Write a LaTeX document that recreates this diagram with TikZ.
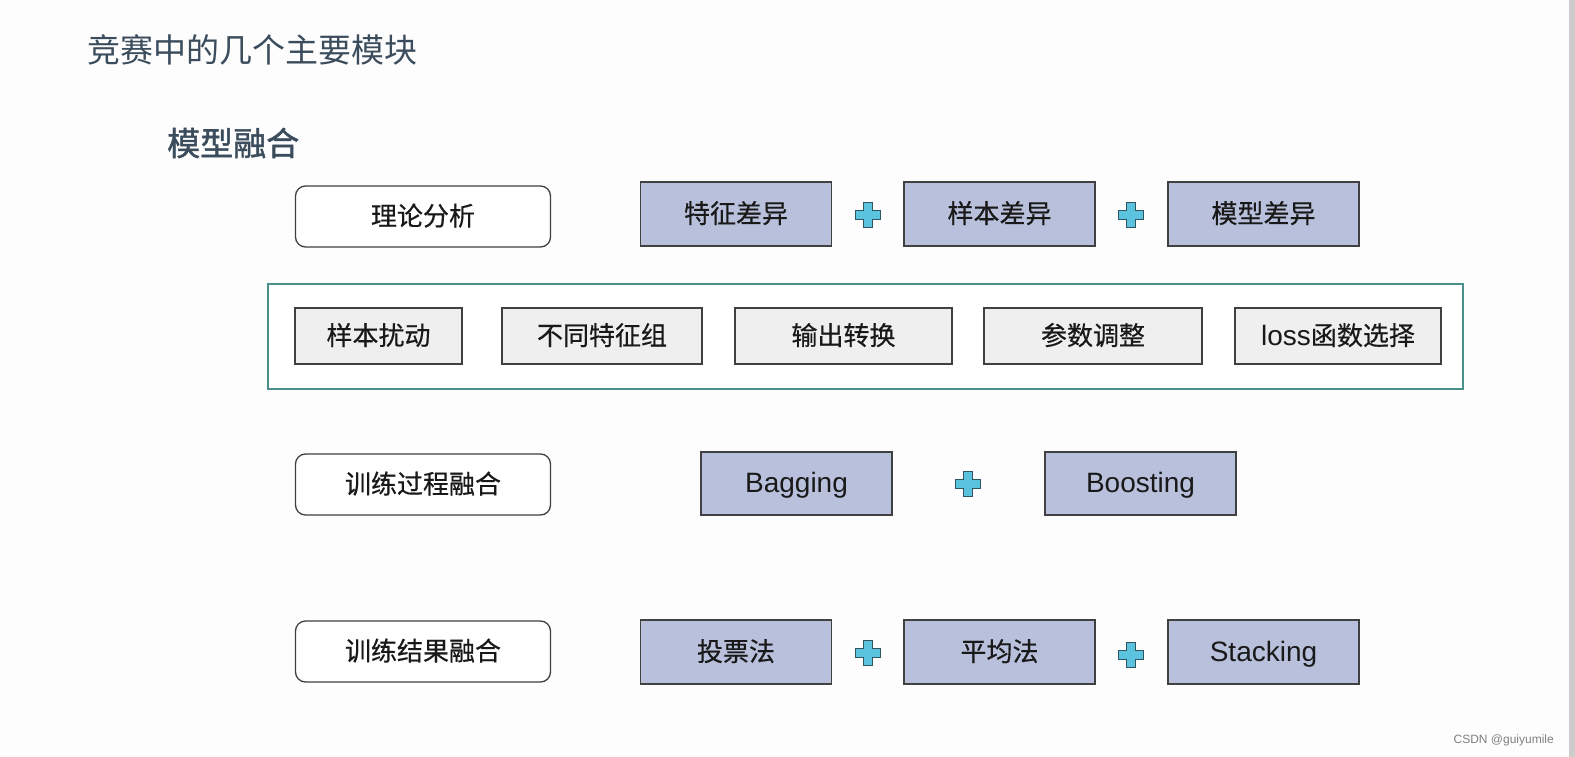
\documentclass[tikz,border=0pt]{standalone}
\usepackage{fontspec}
\setmainfont{Noto Sans CJK SC}
\newfontfamily\cjkb[FakeBold=1.2]{Noto Sans CJK SC}
\newfontfamily\cjkm[FakeBold=0.5]{Noto Sans CJK SC}
\newfontfamily\latn{Liberation Sans}
\newfontfamily\wmfont{Liberation Sans}
\definecolor{titlec}{HTML}{3B4C5C}
\definecolor{bluef}{HTML}{B8C0DB}
\definecolor{edgec}{HTML}{404040}
\definecolor{tealc}{HTML}{4A8F88}
\definecolor{grayf}{HTML}{EFEFEF}
\definecolor{plusf}{HTML}{5CC3DF}
\definecolor{plusd}{HTML}{2E5560}
\definecolor{bgc}{HTML}{FDFDFD}
\newcommand{\lt}[1]{{\latn\fontsize{28}{32}\selectfont #1}}
\tikzset{
  x=1pt,y=-1pt,
  boxtext/.style={font=\cjkm\fontsize{26}{30}\selectfont, text=black!90, inner sep=0pt, text height=22pt, text depth=4pt},
  roundbox/.style={boxtext, draw=edgec, line width=1.3pt, fill=white, rounded corners=10pt, minimum width=255pt, minimum height=61pt},
  bluebox/.style={boxtext, draw=edgec, line width=1.3pt, fill=bluef, minimum width=191pt, minimum height=64pt},
  graybox/.style={boxtext, draw=edgec, line width=1.3pt, fill=grayf, minimum height=56pt},
  pics/plus/.style={code={
    \draw[fill=plusf, draw=plusd, line width=1.2pt]
      (-4.8,-12.5) -- (4.8,-12.5) -- (4.8,-4.8) -- (12.5,-4.8) -- (12.5,4.8) -- (4.8,4.8)
      -- (4.8,12.5) -- (-4.8,12.5) -- (-4.8,4.8) -- (-12.5,4.8) -- (-12.5,-4.8) -- (-4.8,-4.8) -- cycle;
  }}
}
\begin{document}
\begin{tikzpicture}
\fill[bgc] (0,0) rectangle (1575,757);
\useasboundingbox (0,0) rectangle (1575,757);
\fill[gray!40] (1569,0) rectangle (1575,757);

\node[anchor=west, text=titlec, font=\fontsize{33}{38}\selectfont, inner sep=0pt] (title) at (87,50) {竞赛中的几个主要模块};
\node[anchor=west, text=titlec, font=\cjkb\fontsize{33}{37}\selectfont, inner sep=0pt] (sub) at (167,143) {模型融合};

% row 1
\node[roundbox] (r1) at (423,216.5) {理论分析};
\node[bluebox] (a1) at (736,214) {特征差异};
\node[bluebox] (a2) at (999.5,214) {样本差异};
\node[bluebox] (a3) at (1263.5,214) {模型差异};
\pic at (868,215) {plus};
\pic at (1131,215) {plus};

% row 2
\node[draw=tealc, line width=2pt, fill=white, minimum width=1195pt, minimum height=105pt, inner sep=0pt] (grp) at (865.5,336.5) {};
\node[graybox, minimum width=167pt] (b1) at (378.5,336) {样本扰动};
\node[graybox, minimum width=200pt] (b2) at (602,336) {不同特征组};
\node[graybox, minimum width=217pt] (b3) at (843.5,336) {输出转换};
\node[graybox, minimum width=218pt] (b4) at (1093,336) {参数调整};
\node[graybox, minimum width=206pt] (b5) at (1338,336) {\lt{loss}函数选择};

% row 3
\node[roundbox] (r3) at (423,484.5) {训练过程融合};
\node[bluebox, minimum height=63pt] (c1) at (796.5,483.5) {\lt{Bagging}};
\node[bluebox, minimum height=63pt] (c2) at (1140.5,483.5) {\lt{Boosting}};
\pic at (968,484) {plus};

% row 4
\node[roundbox] (r4) at (423,651.5) {训练结果融合};
\node[bluebox] (d1) at (736,652) {投票法};
\node[bluebox] (d2) at (999.5,652) {平均法};
\node[bluebox] (d3) at (1263.5,652) {\lt{Stacking}};
\pic at (868,653) {plus};
\pic at (1131,655) {plus};

\node[anchor=east, text=gray, font=\wmfont\fontsize{12}{14}\selectfont, inner sep=0pt] (wm) at (1554,740) {CSDN @guiyumile};
\end{tikzpicture}
\end{document}
